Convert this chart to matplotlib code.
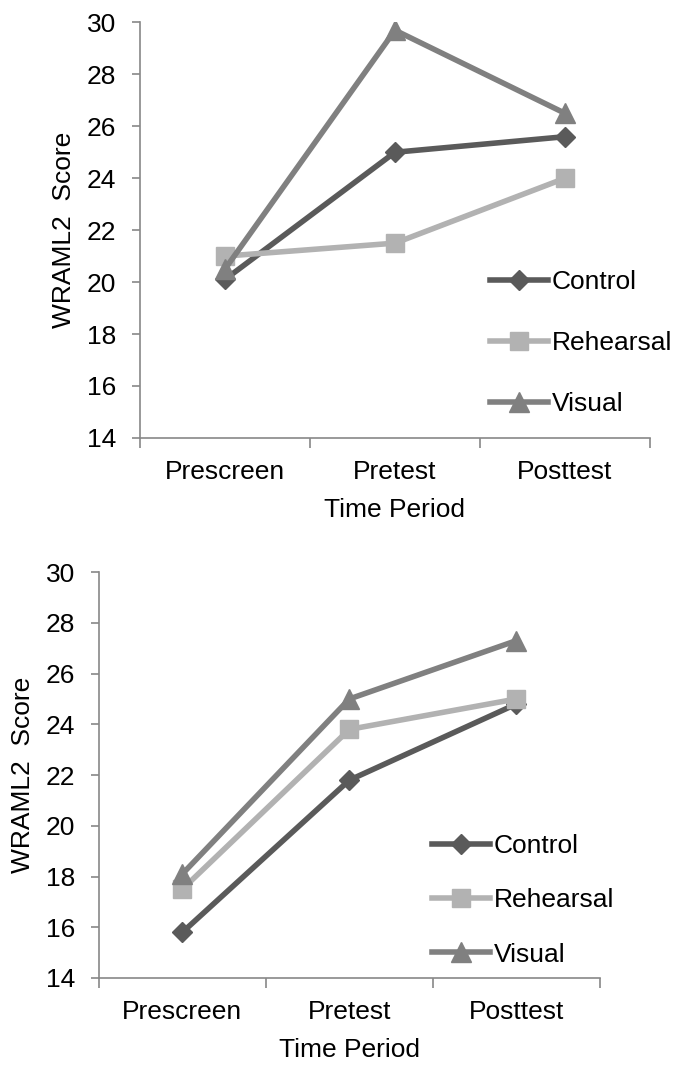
import matplotlib
matplotlib.use("Agg")
import matplotlib.pyplot as plt
from matplotlib.ticker import FixedLocator

plt.rcParams["font.family"] = ["Liberation Sans", "DejaVu Sans"]

periods = ["Prescreen", "Pretest", "Posttest"]
groups = ["Control", "Rehearsal", "Visual"]

# top panel
top_control = [20.1, 25.0, 25.6]
top_rehearsal = [21.0, 21.5, 24.0]
top_visual = [20.5, 29.7, 26.5]

# bottom panel
bot_control = [15.8, 21.8, 24.8]
bot_rehearsal = [17.5, 23.8, 25.0]
bot_visual = [18.1, 25.0, 27.3]

colors = {"Control": "#5a5a5a", "Rehearsal": "#b2b2b2", "Visual": "#808080"}
markers = {"Control": "D", "Rehearsal": "s", "Visual": "^"}
msizes = {"Control": 10, "Rehearsal": 13, "Visual": 14}
axis_gray = "#888888"
fs = 19

fig = plt.figure(figsize=(6.96, 10.68), dpi=100)


def draw_panel(ax, series, legend_anchor, spacing):
    x = range(len(periods))
    for name, vals in zip(groups, series):
        ax.plot(x, vals, color=colors[name], lw=4, marker=markers[name],
                ms=msizes[name], label=name, zorder=3)
    ax.set_xlim(-0.5, 2.5)
    ax.set_ylim(14, 30)
    ax.set_yticks(range(14, 31, 2))
    ax.xaxis.set_major_locator(FixedLocator([-0.5, 0.5, 1.5, 2.5]))
    ax.xaxis.set_minor_locator(FixedLocator([0, 1, 2]))
    ax.set_xticklabels([])
    ax.set_xticklabels(periods, minor=True)
    ax.tick_params(axis="x", which="major", direction="out", length=7,
                   color=axis_gray, width=1.2)
    ax.tick_params(axis="x", which="minor", length=0, labelsize=fs, pad=16)
    ax.tick_params(axis="y", direction="out", length=6, color=axis_gray,
                   width=1.2, labelsize=fs, pad=11)
    for s in ["top", "right"]:
        ax.spines[s].set_visible(False)
    for s in ["left", "bottom"]:
        ax.spines[s].set_color(axis_gray)
        ax.spines[s].set_linewidth(1.2)
    ax.set_ylabel("WRAML2  Score", fontsize=fs, labelpad=8)
    ax.set_xlabel("Time Period", fontsize=fs, labelpad=10)
    ax.legend(loc="upper left", bbox_to_anchor=legend_anchor, frameon=False,
              fontsize=fs, handlelength=2.2, handletextpad=0.15,
              labelspacing=spacing, borderaxespad=0, borderpad=0)


ax1 = fig.add_axes([0.201, 0.590, 0.733, 0.389])
draw_panel(ax1, [top_control, top_rehearsal, top_visual], (0.686, 0.403), 1.4)

ax2 = fig.add_axes([0.142, 0.0843, 0.720, 0.380])
draw_panel(ax2, [bot_control, bot_rehearsal, bot_visual], (0.665, 0.355), 1.15)

fig.savefig("out.png", dpi=100)
